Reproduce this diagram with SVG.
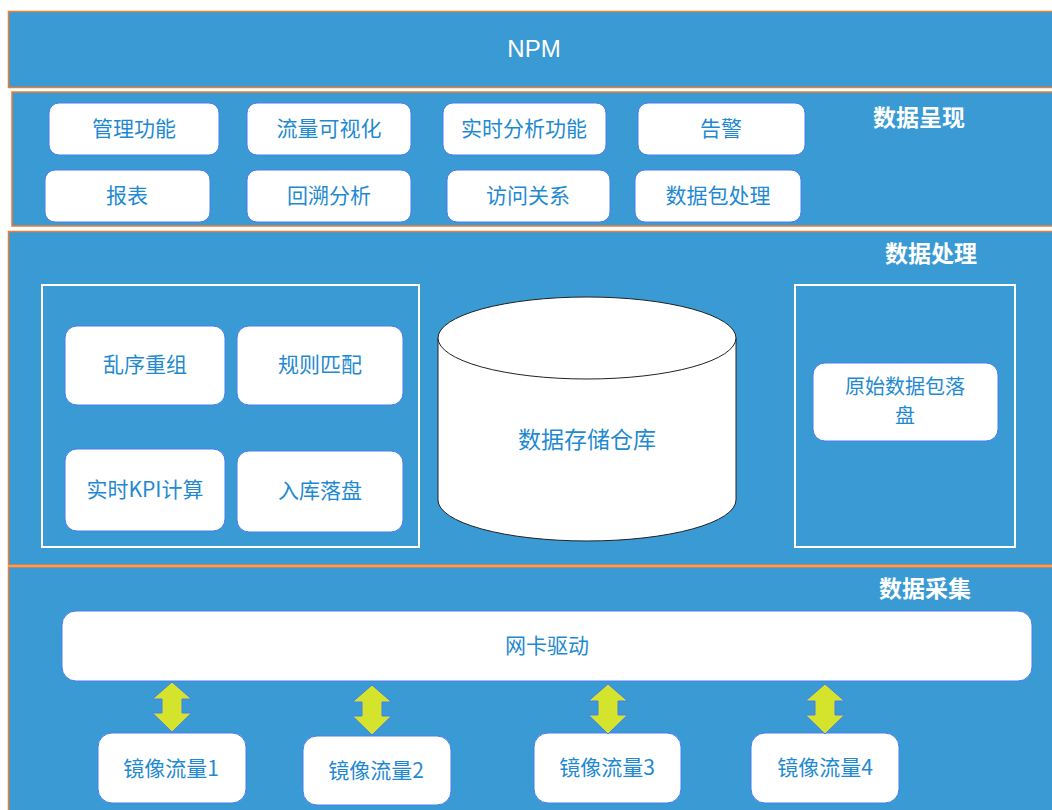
<svg xmlns="http://www.w3.org/2000/svg" xmlns:xlink="http://www.w3.org/1999/xlink" width="1052" height="810" viewBox="0 0 1052 810">
<style>
.band{fill:#3A9AD4;stroke:#ED7D31;stroke-width:1.5}
.box{fill:#FFFFFF;stroke:#4A7CF0;stroke-width:1}
.frame{fill:none;stroke:#FFFFFF;stroke-width:2}
.t{font-family:"Noto Sans CJK SC","Liberation Sans",sans-serif;font-size:21px;fill:#1F8AD1;text-anchor:middle;dominant-baseline:central}
.title{font-family:"Noto Sans CJK SC","Liberation Sans",sans-serif;font-size:23px;font-weight:bold;fill:#FFFFFF;text-anchor:middle;dominant-baseline:central}
.npm{font-family:"Liberation Sans","Noto Sans CJK SC",sans-serif;font-size:24px;fill:#FFFFFF;text-anchor:middle;dominant-baseline:central}
.arrow{fill:#D4E32B;stroke:#4A7CF0;stroke-width:1}
</style>
<defs>
<polygon id="darrow" class="arrow" points="0,0 19.5,17 10,17 10,31 19.5,31 0,50 -19.5,31 -10,31 -10,17 -19.5,17"/>
</defs>
<rect width="1052" height="810" fill="#FFFFFF"/>
<g id="band-npm">
<rect class="band" x="8.5" y="11.5" width="1060" height="76"/>
<text class="npm" x="534" y="48">NPM</text>
</g>
<g id="band-present">
<rect class="band" x="12" y="92" width="1060" height="134"/>
<text class="title" x="919" y="116">数据呈现</text>
</g>
<g id="band-process">
<rect class="band" x="8.5" y="231.5" width="1060" height="333.5"/>
<text class="title" x="931" y="252">数据处理</text>
</g>
<g id="band-collect">
<rect class="band" x="8.5" y="567" width="1060" height="260"/>
<text class="title" x="925" y="587">数据采集</text>
</g>
<g id="n-guanli"><rect class="box" x="49" y="103" width="170" height="52" rx="10"/><text class="t" x="134" y="127">管理功能</text></g>
<g id="n-liuliang"><rect class="box" x="247" y="103" width="164" height="52" rx="10"/><text class="t" x="329" y="127">流量可视化</text></g>
<g id="n-shishi"><rect class="box" x="443" y="103" width="163" height="52" rx="10"/><text class="t" x="524" y="127">实时分析功能</text></g>
<g id="n-gaojing"><rect class="box" x="638" y="103" width="167" height="52" rx="10"/><text class="t" x="721" y="127">告警</text></g>
<g id="n-baobiao"><rect class="box" x="45" y="170" width="165" height="52" rx="10"/><text class="t" x="127" y="194">报表</text></g>
<g id="n-huisu"><rect class="box" x="247" y="170" width="164" height="52" rx="10"/><text class="t" x="329" y="194">回溯分析</text></g>
<g id="n-fangwen"><rect class="box" x="447" y="170" width="163" height="52" rx="10"/><text class="t" x="528" y="194">访问关系</text></g>
<g id="n-shujubao"><rect class="box" x="635" y="170" width="166" height="52" rx="10"/><text class="t" x="718" y="194">数据包处理</text></g>
<g id="frame-left"><rect class="frame" x="42" y="285" width="377" height="262"/></g>
<g id="n-luanxu"><rect class="box" x="65" y="326" width="160" height="79" rx="12"/><text class="t" x="145" y="363">乱序重组</text></g>
<g id="n-guize"><rect class="box" x="237" y="326" width="166" height="79" rx="12"/><text class="t" x="320" y="363">规则匹配</text></g>
<g id="n-kpi"><rect class="box" x="65" y="449" width="160" height="82" rx="12"/><text class="t" x="145" y="488">实时KPI计算</text></g>
<g id="n-ruku"><rect class="box" x="237" y="451" width="166" height="81" rx="12"/><text class="t" x="320" y="489">入库落盘</text></g>
<g id="n-cangku">
<path d="M438,338 L438,500 A149,41 0 0 0 736,500 L736,338" fill="#FFFFFF" stroke="#222222" stroke-width="1"/>
<ellipse cx="587" cy="338" rx="149" ry="41" fill="#FFFFFF" stroke="#222222" stroke-width="1"/>
<text class="t" x="587" y="438" style="font-size:23px">数据存储仓库</text>
</g>
<g id="frame-right"><rect class="frame" x="795" y="285" width="220" height="262"/></g>
<g id="n-yuanshi"><rect class="box" x="813" y="363" width="185" height="78" rx="12"/><text class="t" x="905" y="385" style="font-size:20px">原始数据包落</text><text class="t" x="905" y="414" style="font-size:20px">盘</text></g>
<g id="n-wangka"><rect class="box" x="62" y="611" width="970" height="70" rx="14"/><text class="t" x="547" y="644">网卡驱动</text></g>
<g id="n-jx1"><rect class="box" x="98" y="733" width="148" height="70" rx="14"/><text class="t" x="171" y="767">镜像流量1</text></g>
<g id="n-jx2"><rect class="box" x="303" y="736" width="148" height="69" rx="14"/><text class="t" x="376" y="769">镜像流量2</text></g>
<g id="n-jx3"><rect class="box" x="534" y="733" width="147" height="70" rx="14"/><text class="t" x="607" y="766">镜像流量3</text></g>
<g id="n-jx4"><rect class="box" x="751" y="733" width="148" height="70" rx="14"/><text class="t" x="825" y="766">镜像流量4</text></g>
<g id="connectors">
<use xlink:href="#darrow" transform="translate(172,682)"/>
<use xlink:href="#darrow" transform="translate(372,685)"/>
<use xlink:href="#darrow" transform="translate(608,684)"/>
<use xlink:href="#darrow" transform="translate(825,684)"/>
</g>
</svg>
